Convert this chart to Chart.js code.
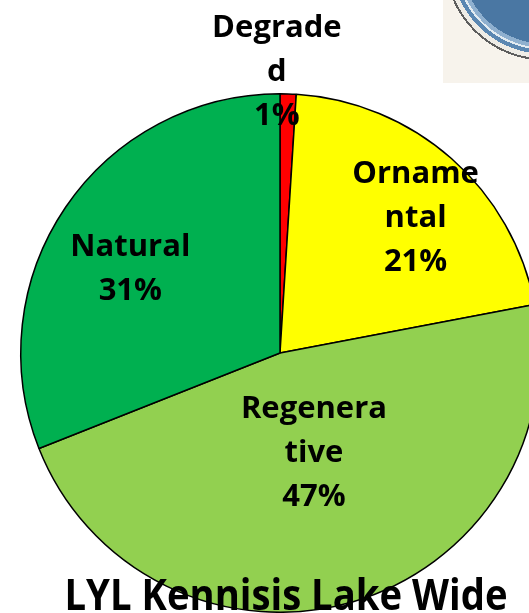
<!DOCTYPE html>
<html>
<head>
<meta charset="utf-8">
<script src="https://cdn.jsdelivr.net/npm/chart.js@4.4.1/dist/chart.umd.min.js"></script>
<style>
html, body { margin: 0; padding: 0; background: #fff; overflow: hidden; }
#wrap { position: relative; width: 529px; height: 613px; overflow: hidden; }
#pie { position: absolute; left: 0; top: 0; }
#logo { position: absolute; left: 443px; top: 0; width: 86px; height: 83px; background: #f7f3ec; overflow: hidden; }
#logo .ring {
    position: absolute; left: 0; top: -142px; width: 204px; height: 204px; border-radius: 50%;
    background: radial-gradient(circle closest-side, #4a77a3 0 82%, #8fb0cf 82% 86%, #e2ebf1 86% 88%, #5a87b2 88% 92%, #eeece6 92% 96.5%, #5e5e5e 96.5% 98.5%, rgba(0,0,0,0) 98.5%);
}
</style>
</head>
<body>
<div id="wrap">
    <div id="logo"><div class="ring"></div></div>
    <canvas id="pie" width="560" height="613"></canvas>
</div>
<script>
const categories = ['Degraded', 'Ornamental', 'Regenerative', 'Natural'];
const shares = [1, 21, 47, 31];
// how the category names wrap inside the slices
const labelLines = [['Degrade', 'd'], ['Orname', 'ntal'], ['Regenera', 'tive'], ['Natural']];
const sliceColors = ['#FF0000', '#FFFF00', '#92D050', '#00B050'];
const chartTitle = 'LYL Kennisis Lake Wide';

// where each label block sits: fraction of the radius along the slice middle, plus a nudge
const labelPlace = [
    { r: 1.09, dx: -12, dy: -1 },
    { r: 0.75, dx: 7, dy: 9 },
    { r: 0.40, dx: 5, dy: -2 },
    { r: 0.67, dx: -6, dy: 12 }
];

const sliceLabels = {
    id: 'sliceLabels',
    afterDraw(chart) {
        const ctx = chart.ctx;
        const arcs = chart.getDatasetMeta(0).data;
        const total = shares.reduce((a, b) => a + b, 0);
        const lineH = 44;
        ctx.save();
        ctx.fillStyle = '#000';
        ctx.textAlign = 'center';
        ctx.textBaseline = 'alphabetic';
        ctx.font = 'bold 31px "Open Sans"';
        const capH = 22;
        arcs.forEach((arc, i) => {
            const p = arc.getProps(['x', 'y', 'startAngle', 'endAngle', 'outerRadius'], true);
            const mid = (p.startAngle + p.endAngle) / 2;
            const rr = p.outerRadius * labelPlace[i].r;
            const cx = p.x + Math.cos(mid) * rr + labelPlace[i].dx;
            const cy = p.y + Math.sin(mid) * rr + labelPlace[i].dy;
            const lines = labelLines[i].concat([Math.round(shares[i] / total * 100) + '%']);
            let y = cy - (lines.length - 1) * lineH / 2 + capH / 2;
            lines.forEach(t => {
                ctx.fillText(t, cx, y);
                y += lineH;
            });
        });
        // title sits over the bottom of the pie
        ctx.font = 'bold 43px "Open Sans"';
        ctx.fillText(chartTitle, 286, 610, 443);
        ctx.restore();
    }
};

new Chart(document.getElementById('pie'), {
    type: 'pie',
    data: {
        labels: categories,
        datasets: [{
            data: shares,
            backgroundColor: sliceColors,
            borderColor: '#000',
            borderWidth: 1.5
        }]
    },
    options: {
        responsive: false,
        animation: false,
        layout: { padding: { top: 93, bottom: 0, left: 20, right: 20 } },
        plugins: {
            legend: { display: false },
            tooltip: { enabled: false }
        }
    },
    plugins: [sliceLabels]
});
</script>
</body>
</html>
